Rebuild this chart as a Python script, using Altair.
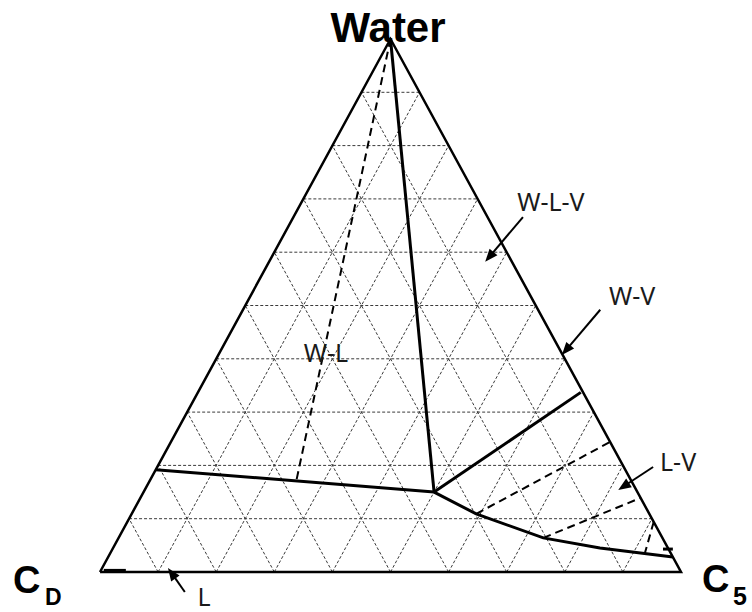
import math
import altair as alt
import pandas as pd

# Ternary phase diagram: C_D at bottom-left, C5 at bottom-right, Water at the top.
# Every composition is written as (water fraction, C5 fraction); C_D is the rest.

GRID_LEVELS = [0.1, 0.2, 0.3, 0.4, 0.5, 0.6, 0.7, 0.8, 0.9]

CORNERS = [(0.0, 0.0), (0.0, 1.0), (1.0, 0.0), (0.0, 0.0)]

# Solid phase boundaries
BOUNDARIES = {
    "apex_to_junction": [(1.00, 0.00), (0.150, 0.500)],
    "left_to_junction": [(0.192, 0.000), (0.150, 0.500)],
    "junction_to_right": [(0.150, 0.500), (0.337, 0.659)],
    "junction_to_c5": [(0.150, 0.500), (0.109, 0.593), (0.064, 0.731),
                       (0.045, 0.838), (0.028, 0.972)],
    "l_edge": [(0.003, 0.005), (0.003, 0.043)],
    "c5_tick": [(0.043, 0.9475), (0.043, 0.9645)],
}

# Dashed tie lines
TIE_LINES = {
    "t1": [(1.000, 0.000), (0.169, 0.253)],
    "t2": [(0.109, 0.593), (0.244, 0.756)],
    "t3": [(0.064, 0.731), (0.139, 0.861)],
    "t4": [(0.094, 0.906), (0.036, 0.920)],
}

# Region labels (plot-fraction x, y) and their arrows (tail -> head)
REGION_TEXT = ["W-L-V", "W-V", "L-V", "W-L", "L"]
REGION_X = [0.776, 0.916, 0.995, 0.389, 0.179]
REGION_Y = [0.692, 0.516, 0.2045, 0.409, -0.0488]

ARROW_NAME = ["W-L-V", "W-V", "L-V", "L"]
ARROW_TAIL = [(0.728, 0.666), (0.861, 0.492), (0.952, 0.197), (0.146, -0.0375)]
ARROW_HEAD = [(0.663, 0.582), (0.795, 0.407), (0.892, 0.154), (0.117, 0.0075)]

W, H = 581, 533
HEAD_LEN = 12.9

xs = alt.Scale(domain=[0, 1], nice=False, zero=False)
ys = alt.Scale(domain=[0, 1], nice=False, zero=False)
X = alt.X("x:Q", scale=xs, axis=None)
Y = alt.Y("y:Q", scale=ys, axis=None)


def ternary_frame(paths):
    rows = []
    for name, pts in paths.items():
        for i, (w, c) in enumerate(pts):
            rows.append({"id": name, "o": i, "w": w, "c": c})
    return pd.DataFrame(rows)


def ternary_lines(df, **mark):
    return (
        alt.Chart(df)
        .transform_calculate(x="datum.c + datum.w / 2", y="datum.w")
        .mark_line(**mark)
        .encode(x=X, y=Y, detail="id:N", order="o:Q")
    )


# grid lines parallel to each side
grid = {}
for k, g in enumerate(GRID_LEVELS):
    grid[f"w{k}"] = [(g, 0.0), (g, 1.0 - g)]
    grid[f"c{k}"] = [(0.0, g), (1.0 - g, g)]
    grid[f"d{k}"] = [(0.0, 1.0 - g), (1.0 - g, 0.0)]

grid_layer = ternary_lines(ternary_frame(grid), color="#3a3a3a",
                           strokeWidth=1, strokeDash=[3, 2])
frame_layer = ternary_lines(ternary_frame({"frame": CORNERS}), color="black",
                            strokeWidth=2.5, strokeJoin="miter")
boundary_layer = ternary_lines(ternary_frame(BOUNDARIES), color="black",
                               strokeWidth=3)
tie_layer = ternary_lines(ternary_frame(TIE_LINES), color="black",
                          strokeWidth=2, strokeDash=[8, 5])

# arrows: shaft plus a rotated triangular head
shaft_rows, head_rows = [], []
for name, (tx, ty), (hx, hy) in zip(ARROW_NAME, ARROW_TAIL, ARROW_HEAD):
    dxp, dyp = (hx - tx) * W, -(hy - ty) * H
    length = math.hypot(dxp, dyp)
    ux, uy = dxp / length, dyp / length
    ex = hx - ux * HEAD_LEN * 0.8 / W
    ey = hy + uy * HEAD_LEN * 0.8 / H
    shaft_rows += [{"id": name, "o": 0, "x": tx, "y": ty},
                   {"id": name, "o": 1, "x": ex, "y": ey}]
    ang = math.degrees(math.atan2(dxp, -dyp)) % 360
    head_rows.append({"id": name, "x": hx, "y": hy, "ang": ang})

shaft_layer = (
    alt.Chart(pd.DataFrame(shaft_rows))
    .mark_line(color="black", strokeWidth=2)
    .encode(x=X, y=Y, detail="id:N", order="o:Q")
)
head_layer = (
    alt.Chart(pd.DataFrame(head_rows))
    .mark_point(shape="M0,0L-0.42,1.05L0.42,1.05Z", filled=True, opacity=1,
                color="black", size=600, strokeWidth=0)
    .encode(x=X, y=Y, angle=alt.Angle("ang:Q", scale=None))
)

region_layer = (
    alt.Chart(pd.DataFrame({"t": REGION_TEXT, "x": REGION_X, "y": REGION_Y}))
    .mark_text(font="Noto Sans", fontSize=25, color="#1a1a1a",
               align="center", baseline="middle")
    .encode(x=X, y=Y, text="t:N")
)


def bold_text(text, x, y, size, align="left"):
    return (
        alt.Chart(pd.DataFrame({"t": [text], "x": [x], "y": [y]}))
        .mark_text(font="Liberation Sans", fontWeight="bold", fontSize=size,
                   color="black", align=align, baseline="alphabetic")
        .encode(x=X, y=Y, text="t:N")
    )


corner_labels = [
    bold_text("Water", 0.4957, 0.9944, 42, align="center"),
    bold_text("C", -0.1497, -0.0394, 38),
    bold_text("D", -0.0947, -0.0619, 23),
    bold_text("C", 1.0361, -0.0375, 38),
    bold_text("5", 1.0895, -0.0619, 25),
]

chart = (
    alt.layer(grid_layer, tie_layer, boundary_layer, frame_layer,
              shaft_layer, head_layer, region_layer, *corner_labels)
    .properties(width=W, height=H, autosize="none",
                padding={"left": 100, "top": 39, "right": 71, "bottom": 40})
    .configure(background="white", view=alt.ViewConfig(stroke=None))
)

chart.save("out.html", embed_options={"renderer": "svg", "actions": False})
